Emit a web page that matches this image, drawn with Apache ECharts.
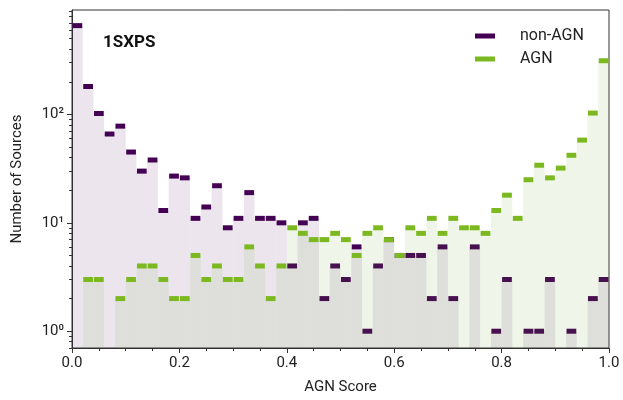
<!DOCTYPE html>
<html>
<head>
<meta charset="utf-8">
<script src="https://cdn.jsdelivr.net/npm/echarts@6/dist/echarts.min.js"></script>
<style>
  html, body { margin: 0; padding: 0; background: #fff; }
  #main { width: 623px; height: 400px; }
</style>
</head>
<body>
<div id="main"></div>
<script>
// histogram bin edges (50 bins over the AGN score)
const binEdges = [
  0.00, 0.02, 0.04, 0.06, 0.08, 0.10, 0.12, 0.14, 0.16, 0.18,
  0.20, 0.22, 0.24, 0.26, 0.28, 0.30, 0.32, 0.34, 0.36, 0.38,
  0.40, 0.42, 0.44, 0.46, 0.48, 0.50, 0.52, 0.54, 0.56, 0.58,
  0.60, 0.62, 0.64, 0.66, 0.68, 0.70, 0.72, 0.74, 0.76, 0.78,
  0.80, 0.82, 0.84, 0.86, 0.88, 0.90, 0.92, 0.94, 0.96, 0.98, 1.00
];
// counts per bin
const nonAgnCounts = [
  660, 181, 102, 66, 78, 45, 30, 38, 13, 27,
  26, 11, 14, 22, 9, 11, 19, 11, 11, 10,
  4, 10, 11, 2, 4, 3, 6, 1, 4, 7,
  5, 5, 5, 2, 6, 2, 0, 6, 0, 1,
  3, 0, 1, 1, 3, 0, 1, 0, 2, 3
];
const agnCounts = [
  0, 3, 3, 0, 2, 3, 4, 4, 3, 2,
  2, 5, 3, 4, 3, 3, 6, 4, 2, 4,
  9, 8, 7, 7, 8, 7, 5, 8, 9, 7,
  5, 9, 8, 11, 8, 11, 9, 9, 8, 13,
  18, 11, 25, 34, 26, 32, 42, 58, 103, 313
];
const xTicks = [0, 0.2, 0.4, 0.6, 0.8, 1.0];
const yMajorTicks = [1, 10, 100];
const yMinorTicks = [0.7, 0.8, 0.9, 2, 3, 4, 5, 6, 7, 8, 9, 20, 30, 40, 50, 60, 70, 80, 90, 200, 300, 400, 500, 600, 700, 800, 900];
const Y_MIN = 0.7, Y_MAX = 920;

const FONT = 'Roboto';
const sup = { '0': '⁰', '1': '¹', '2': '²', '3': '³' };

function histData(counts) {
  return counts.map((c, i) => [binEdges[i], binEdges[i + 1], c]);
}

function makeRender(fill, line) {
  return function (params, api) {
    const c = api.value(2);
    if (!c) return null;
    const a = api.coord([api.value(0), c]);
    const b = api.coord([api.value(1), c]);
    const bottom = params.coordSys.y + params.coordSys.height;
    return {
      type: 'group',
      children: [
        { type: 'rect', shape: { x: a[0], y: a[1], width: b[0] - a[0], height: bottom - a[1] },
          style: { fill: fill } },
        { type: 'rect', shape: { x: a[0] + 0.5, y: a[1] - 2.5, width: b[0] - a[0] - 1, height: 5 },
          style: { fill: line } }
      ]
    };
  };
}

const chart = echarts.init(document.getElementById('main'));
chart.setOption({
  animation: false,
  textStyle: { fontFamily: FONT },
  grid: { left: 72, right: 14, top: 10, bottom: 48, show: true, borderColor: '#333', borderWidth: 1, backgroundColor: 'transparent' },
  title: {
    text: '1SXPS', left: 98, top: 29,
    textStyle: { fontFamily: FONT, fontSize: 17, fontWeight: 'bold', color: '#111' }
  },
  legend: {
    orient: 'vertical', left: 470, top: 23, itemGap: 7,
    itemWidth: 20, itemHeight: 5, icon: 'rect',
    textStyle: { fontFamily: FONT, fontSize: 16, color: '#222', padding: [0, 0, 0, 20] },
    data: [
      { name: 'non-AGN', itemStyle: { color: '#440154' } },
      { name: 'AGN', itemStyle: { color: '#7cb81f' } }
    ]
  },
  xAxis: {
    type: 'value', min: 0, max: 1, interval: 0.2,
    name: 'AGN Score', nameLocation: 'middle', nameGap: 32,
    nameTextStyle: { fontFamily: FONT, fontSize: 15, color: '#222' },
    axisLine: { onZero: false, lineStyle: { color: '#333', width: 1 } },
    axisTick: { length: 5, lineStyle: { color: '#333' }, customValues: xTicks },
    minorTick: { show: true, splitNumber: 4, length: 3, lineStyle: { color: '#333' } },
    splitLine: { show: false },
    axisLabel: { margin: 8, fontFamily: FONT, fontSize: 15, color: '#222', customValues: xTicks,
      formatter: v => v.toFixed(1) }
  },
  yAxis: [
    {
      type: 'log', logBase: 10, min: Y_MIN, max: Y_MAX,
      name: 'Number of Sources', nameLocation: 'middle', nameGap: 47,
      nameTextStyle: { fontFamily: FONT, fontSize: 15, color: '#222' },
      axisLine: { show: true, lineStyle: { color: '#333', width: 1 } },
      axisTick: { show: true, length: 5, lineStyle: { color: '#333' }, customValues: yMajorTicks },
      splitLine: { show: false },
      axisLabel: {
        margin: 8, fontFamily: FONT, fontSize: 15, color: '#222', customValues: yMajorTicks,
        formatter: v => '10' + sup[String(Math.round(Math.log10(v)))]
      }
    },
    {
      // decoration axis in log10 units, only for the minor ticks
      type: 'value', min: Math.log10(Y_MIN), max: Math.log10(Y_MAX), position: 'left',
      axisLine: { show: false },
      axisTick: { show: true, length: 3, lineStyle: { color: '#333' },
        customValues: yMinorTicks.map(v => Math.log10(v)) },
      splitLine: { show: false },
      axisLabel: { show: false }
    }
  ],
  series: [
    {
      name: 'non-AGN', type: 'custom', color: '#440154',
      renderItem: makeRender('rgba(68,1,84,0.1)', '#440154'),
      encode: { x: [0, 1], y: 2 },
      data: histData(nonAgnCounts)
    },
    {
      name: 'AGN', type: 'custom', color: '#7cb81f',
      renderItem: makeRender('rgba(100,160,40,0.1)', '#7cb81f'),
      encode: { x: [0, 1], y: 2 },
      data: histData(agnCounts)
    }
  ]
});
</script>
</body>
</html>
